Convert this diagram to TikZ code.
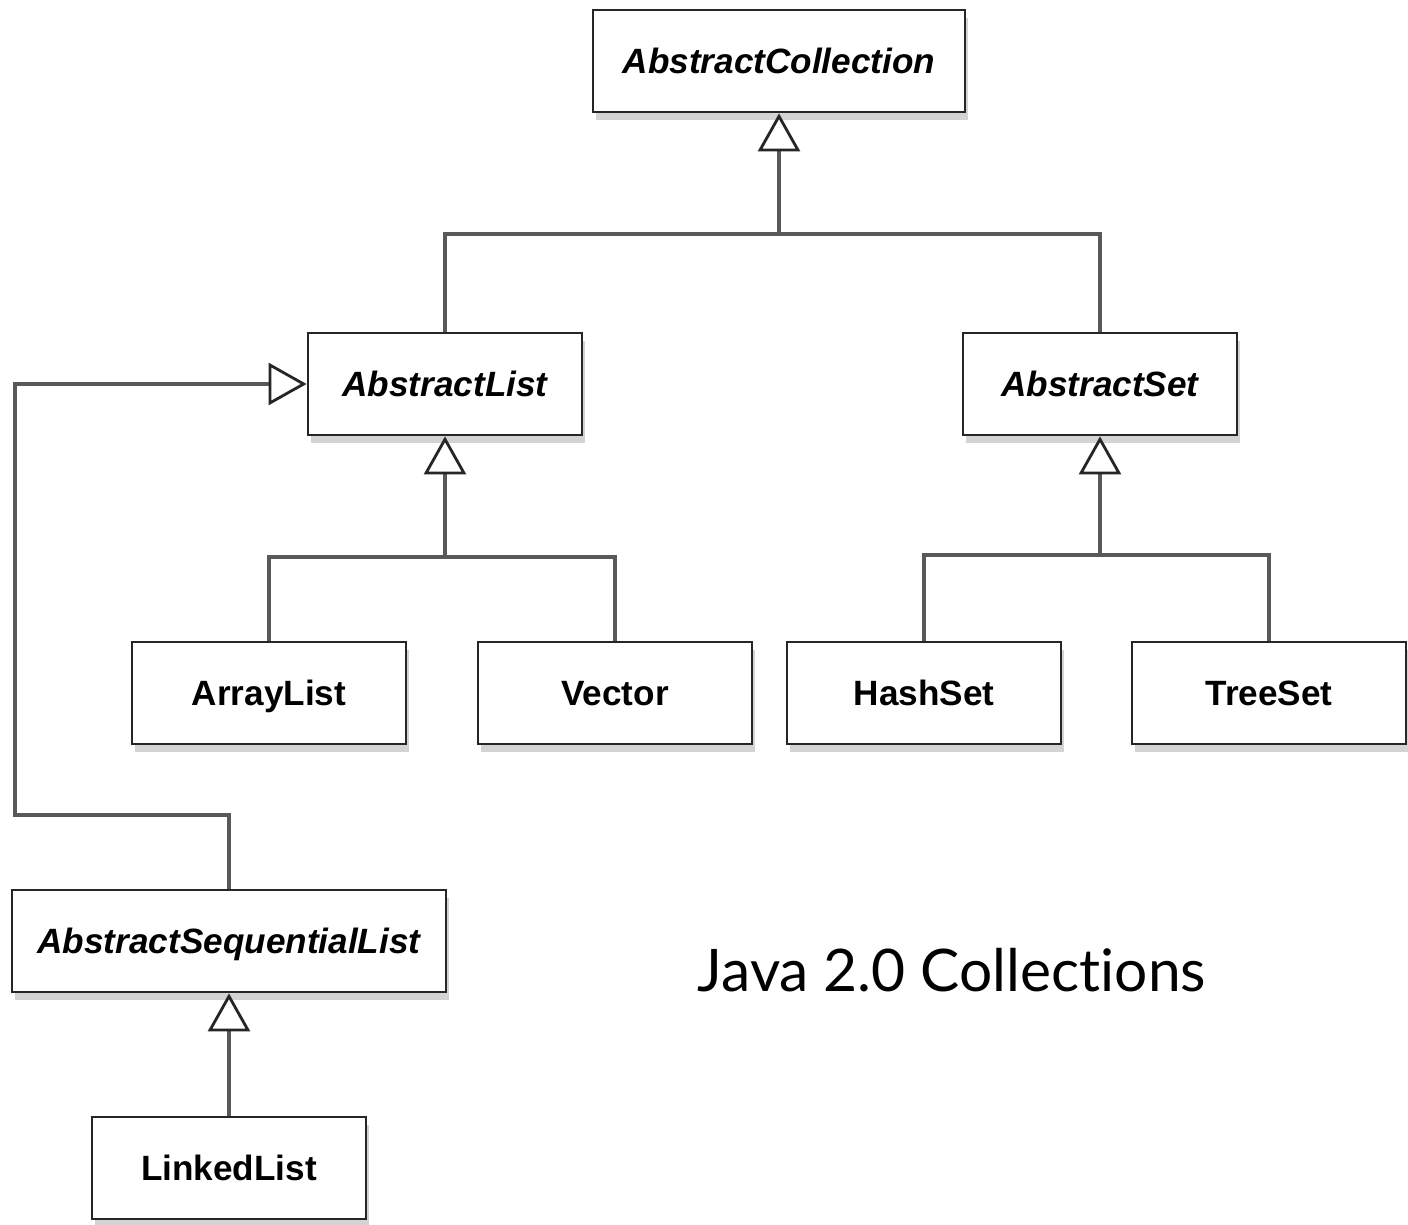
\documentclass[tikz,border=0pt]{standalone}
\usepackage{fontspec}
\setmainfont{Liberation Sans}
\newfontfamily\captionfont[Ligatures={NoCommon}]{Lato}
\usepackage{tikz}
\usetikzlibrary{arrows.meta,positioning,shadows}

\begin{document}
\begin{tikzpicture}[
    cls/.style={draw=black!85, line width=0.8pt, fill=white, minimum width=2.74cm,
      minimum height=1.02cm, text height=7.2pt, text depth=0pt,
      font=\fontsize{10}{12}\selectfont\bfseries,
      drop shadow={shadow xshift=0.03cm, shadow yshift=-0.08cm, opacity=0.35}},
    abstr/.style={cls, font=\fontsize{10}{12}\selectfont\bfseries\itshape},
    link/.style={draw=black!65, line width=0.9pt},
    inherit/.style={link, -{Triangle[open, length=3.8mm, width=4.2mm, line width=0.8pt, black!85]}}
  ]
    \useasboundingbox (0,0) rectangle (14.08,-12.25);

    % Abstract classes
    \node[abstr, minimum width=3.72cm] (coll) at (7.79,-0.61) {AbstractCollection};
    \node[abstr] (alist) at (4.45,-3.84) {AbstractList};
    \node[abstr] (aset) at (11.00,-3.84) {AbstractSet};
    \node[abstr, minimum width=4.34cm] (aseq) at (2.29,-9.41) {AbstractSequentialList};

    % Concrete classes
    \node[cls] (array) at (2.69,-6.93) {ArrayList};
    \node[cls] (vector) at (6.15,-6.93) {Vector};
    \node[cls] (hash) at (9.24,-6.93) {HashSet};
    \node[cls] (tree) at (12.69,-6.93) {TreeSet};
    \node[cls] (linked) at (2.29,-11.68) {LinkedList};

    % Junction points
    \coordinate (jcoll) at (7.79,-2.34);
    \coordinate (jlist) at (4.45,-5.57);
    \coordinate (jset) at (11.00,-5.55);
    \coordinate (jseq) at (0.15,-8.15);

    % Inheritance
    \draw[link] (alist.north) |- (jcoll) -| (aset.north);
    \draw[inherit] (jcoll) -- (coll.south);
    \draw[link] (array.north) |- (jlist) -| (vector.north);
    \draw[inherit] (jlist) -- (alist.south);
    \draw[link] (hash.north) |- (jset) -| (tree.north);
    \draw[inherit] (jset) -- (aset.south);
    \draw[inherit] (aseq.north) |- (jseq) |- (alist.west);
    \draw[inherit] (linked.north) -- (aseq.south);

    \node[anchor=base, font=\captionfont\fontsize{16.7}{20}\selectfont] (title) at (9.52,-9.92) {Java 2.0 Collections};
\end{tikzpicture}
\end{document}
